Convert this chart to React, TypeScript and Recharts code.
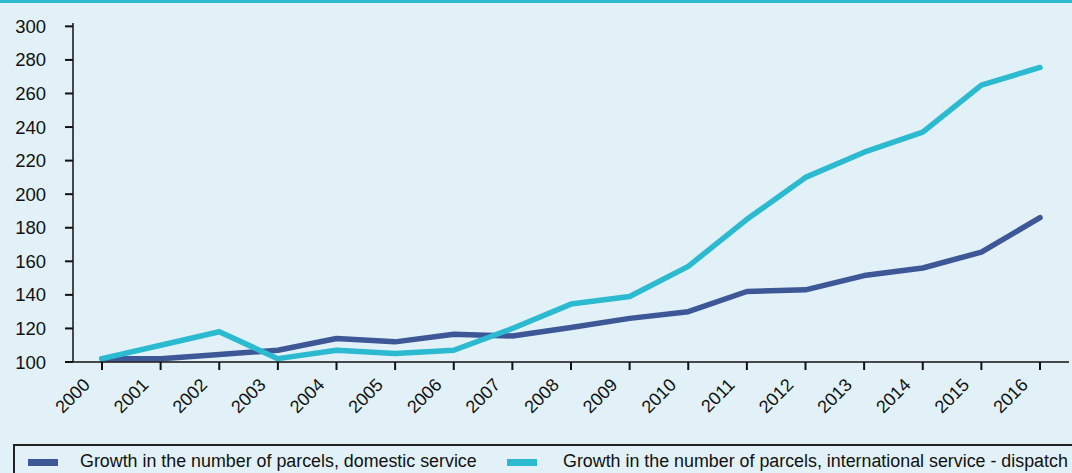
import { LineChart, Line, XAxis, YAxis } from "recharts";

const years = [
  "2000", "2001", "2002", "2003", "2004", "2005", "2006", "2007", "2008",
  "2009", "2010", "2011", "2012", "2013", "2014", "2015", "2016",
];

const domestic = [
  102, 102, 104.5, 107, 114, 112, 116.5, 115.5, 120.5, 126, 130, 142, 143, 151.5, 156, 165.5, 186,
];

const international = [
  102, 110, 118, 102, 107, 105, 107, 120, 134.5, 139, 157, 185, 210, 225, 237, 265, 275.5,
];

const yTicks = [100, 120, 140, 160, 180, 200, 220, 240, 260, 280, 300];

const SERIES = [
  { key: "domestic", name: "Growth in the number of parcels, domestic service", color: "#3d5797" },
  { key: "international", name: "Growth in the number of parcels, international service - dispatch", color: "#2bbad0" },
];

// legend slots: swatch left edge, text left edge
const LEGEND_POS = [
  { swatch: 28, text: 80 },
  { swatch: 507, text: 563 },
];

const FONT = "'Liberation Sans', Arial, Helvetica, sans-serif";

const data = years.map((y, i) => ({
  year: y,
  domestic: domestic[i],
  international: international[i],
}));

function YearTick({ x, y, payload }: any) {
  const ax = x - 11;
  const ay = y + 16;
  return (
    <text
      x={ax}
      y={ay}
      transform={`rotate(-45, ${ax}, ${ay})`}
      textAnchor="end"
      fontSize={18}
      fontFamily={FONT}
      fill="#111"
    >
      {payload.value}
    </text>
  );
}

export default function App() {
  return (
    <div
      style={{
        position: "absolute",
        left: 0,
        top: 0,
        width: 1072,
        height: 473,
        background: "#e2f1f7",
        overflow: "hidden",
        fontFamily: FONT,
      }}
    >
      <div style={{ position: "absolute", left: 0, top: 0, width: 1072, height: 3, background: "#2bbad0" }} />
      <LineChart
        width={1072}
        height={473}
        data={data}
        margin={{ top: 23, right: 3, left: 0, bottom: 41 }}
      >
        <XAxis
          dataKey="year"
          height={70}
          padding={{ left: 29, right: 29 }}
          interval={0}
          tickSize={8}
          tickMargin={0}
          axisLine={{ stroke: "#111", strokeWidth: 1.5 }}
          tickLine={{ stroke: "#111", strokeWidth: 2 }}
          tick={<YearTick />}
        />
        <YAxis
          width={73}
          domain={[100, 302]}
          ticks={yTicks}
          interval={0}
          tickSize={8}
          tickMargin={19}
          axisLine={{ stroke: "#111", strokeWidth: 1.5 }}
          tickLine={{ stroke: "#111", strokeWidth: 2 }}
          tick={{ fill: "#111", fontSize: 18.5, fontFamily: FONT }}
        />
        {SERIES.map((s) => (
          <Line
            key={s.key}
            type="linear"
            dataKey={s.key}
            name={s.name}
            stroke={s.color}
            strokeWidth={5.5}
            strokeLinecap="round"
            strokeLinejoin="round"
            dot={false}
            activeDot={false}
            isAnimationActive={false}
          />
        ))}
      </LineChart>
      <div
        style={{
          position: "absolute",
          left: 13,
          top: 444,
          width: 1080,
          height: 60,
          border: "2px solid #222",
          boxSizing: "border-box",
        }}
      />
      {SERIES.map((s, i) => (
        <div key={s.key}>
          <span
            style={{
              position: "absolute",
              left: LEGEND_POS[i].swatch,
              top: 459,
              width: 30,
              height: 7,
              background: s.color,
            }}
          />
          <span
            style={{
              position: "absolute",
              left: LEGEND_POS[i].text,
              top: 450,
              whiteSpace: "nowrap",
              fontSize: 17.85,
              lineHeight: "22px",
              color: "#111",
            }}
          >
            {s.name}
          </span>
        </div>
      ))}
    </div>
  );
}
